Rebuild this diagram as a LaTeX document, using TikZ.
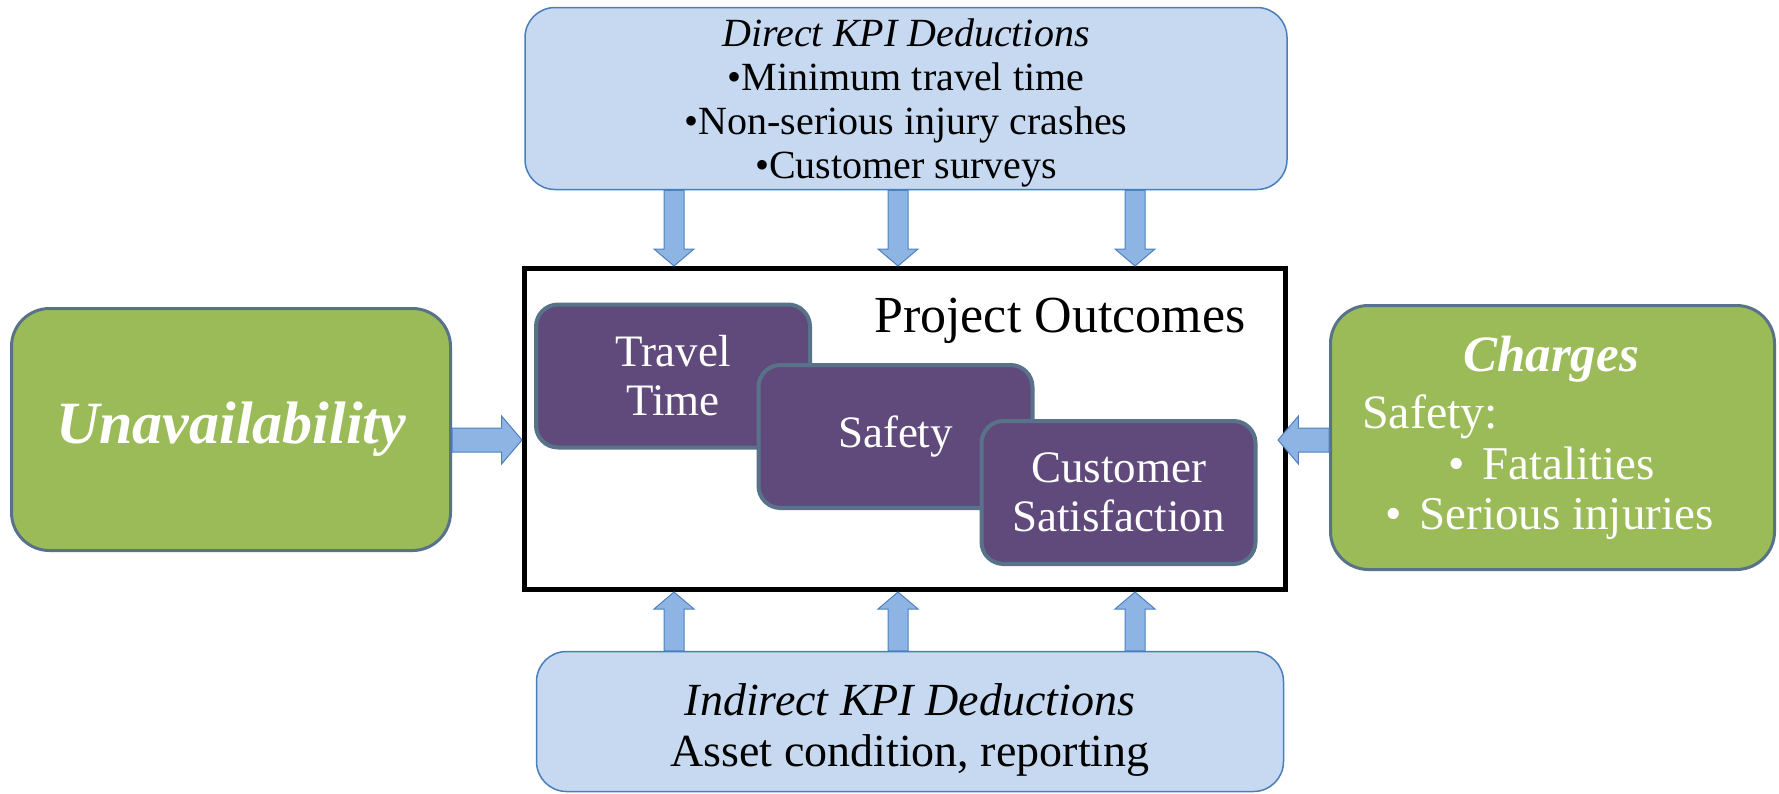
\documentclass[tikz,border=0pt]{standalone}
\usepackage{fontspec}
\setmainfont{Liberation Serif}
\usetikzlibrary{calc}

\definecolor{kpiblue}{HTML}{C6D9F1}
\definecolor{kpiedge}{HTML}{4A7EBB}
\definecolor{arrowfill}{HTML}{8EB4E3}
\definecolor{arrowedge}{HTML}{4F81BD}
\definecolor{chargegreen}{HTML}{9BBB59}
\definecolor{slateedge}{HTML}{58728A}
\definecolor{outcomepurple}{HTML}{604A7B}

% block arrow from #2 to #3, #1 = half shaft width
\newcommand{\kpiarrow}[3][10]{%
  \coordinate (ka) at (#2);
  \coordinate (kb) at (#3);
  \coordinate (kh) at ($(kb)!1.7*#1pt!(ka)$);
  \draw[fat arrow] ($(ka)!#1pt!90:(kb)$) -- ($(kh)!#1pt!90:(kb)$)
    -- ($(kh)!2*#1pt!90:(kb)$) -- (kb) -- ($(kh)!2*#1pt!-90:(kb)$)
    -- ($(kh)!#1pt!-90:(kb)$) -- ($(ka)!#1pt!-90:(kb)$) -- cycle;
}

\begin{document}
\begin{tikzpicture}[x=1pt, y=-1pt]
    \tikzstyle{every node} = [align=center, inner sep=0pt]
    \tikzstyle{kpi box} = [draw=kpiedge, fill=kpiblue, line width=1.5pt, rounded corners=30pt]
    \tikzstyle{green box} = [draw=slateedge, fill=chargegreen, line width=3pt, rounded corners=38pt, text=white]
    \tikzstyle{outcome box} = [draw=slateedge, fill=outcomepurple, line width=4pt, rounded corners=22pt, text=white, minimum width=274pt, minimum height=143pt, font=\fontsize{45}{49}\selectfont]
    \tikzstyle{charge text} = [anchor=base west, text=white, font=\fontsize{47}{50}\selectfont]
    \tikzstyle{fat arrow} = [draw=arrowedge, fill=arrowfill, line width=1pt]
    \useasboundingbox (0,0) rectangle (1779,793);

    \node[kpi box, minimum width=762pt, minimum height=182pt] (direct) at (906,98.5) {};
    \node[font=\fontsize{40}{44}\selectfont] (directtext) at ([yshift=-4pt]direct.center)
        {\textit{Direct KPI Deductions}\\•Minimum travel time\\•Non-serious injury crashes\\•Customer surveys};
    \node[kpi box, minimum width=747pt, minimum height=140pt] (indirect) at (910,721.5) {};
    \node[font=\fontsize{46}{51}\selectfont] (indirecttext) at ([yshift=-8pt]indirect.center)
        {\textit{Indirect KPI Deductions}\\Asset condition, reporting};

    \node[draw, line width=5pt, minimum width=761pt, minimum height=321pt] (outcomes) at (905,429) {};
    \node[anchor=base west, font=\fontsize{52}{60}\selectfont] (outcomestitle) at (874,332) {Project Outcomes};
    \node[outcome box] (travel) at (673,376) {Travel\\Time};
    \node[outcome box] (safety) at (895.5,436.5) {Safety};
    \node[outcome box] (customer) at (1118.5,492.5) {Customer\\Satisfaction};

    \node[green box, minimum width=439pt, minimum height=242pt, font=\fontsize{60}{64}\selectfont\bfseries\itshape] (unavail) at (231,429.5) {Unavailability};
    \node[green box, minimum width=444pt, minimum height=264pt] (charges) at (1552.5,437.5) {};
    \node[anchor=base, text=white, font=\fontsize{51}{60}\selectfont\bfseries\itshape] (chargestitle) at (1551,371) {Charges};
    \node[charge text, font=\fontsize{48}{50}\selectfont] (chargesafety) at (1362,428) {Safety:};
    \node[charge text] (fatal) at (1448,479) {•\hspace{18pt}Fatalities};
    \node[charge text] (serious) at (1385,529) {•\hspace{18pt}Serious injuries};

    \coordinate (col1) at (674,0);
    \coordinate (col2) at (898,0);
    \coordinate (col3) at (1135,0);
    \coordinate (row) at (0,440);
    \foreach \c in {col1,col2,col3} {
        \kpiarrow{direct.south -| \c}{outcomes.north -| \c}
        \kpiarrow{indirect.north -| \c}{outcomes.south -| \c}
    }
    \kpiarrow[12]{unavail.east |- row}{outcomes.west |- row}
    \path (outcomes.east |- row) ++(-10,0) coordinate (rtip);
    \kpiarrow[12]{charges.west |- row}{rtip}
\end{tikzpicture}
\end{document}
